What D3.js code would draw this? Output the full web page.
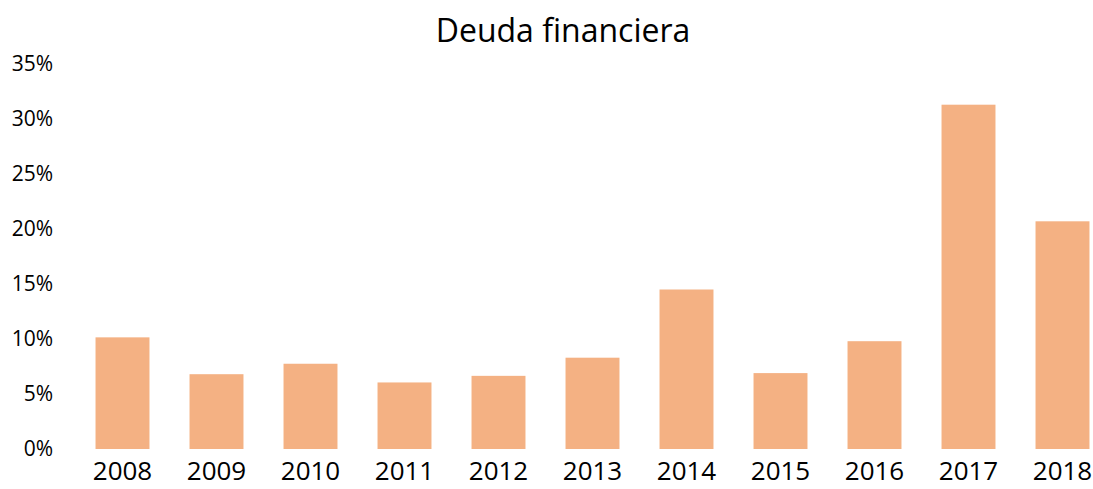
<!DOCTYPE html>
<meta charset="utf-8">
<script src="https://d3js.org/d3.v7.min.js"></script>
<style>
  body { margin: 0; background: #fff; }
  text { font-family: "Open Sans", sans-serif; fill: #000; }
</style>
<div id="chart"></div>
<script>
// data
var years = ["2008", "2009", "2010", "2011", "2012", "2013", "2014", "2015", "2016", "2017", "2018"];
var deuda = [10.15, 6.8, 7.75, 6.05, 6.65, 8.3, 14.5, 6.9, 9.8, 31.3, 20.7];
var yTicks = [0, 5, 10, 15, 20, 25, 30, 35];

var width = 1093, height = 489;

var svg = d3.select("#chart")
  .append("svg")
    .attr("width", width)
    .attr("height", height);

// scales
var x = d3.scaleBand()
  .domain(years)
  .range([75.5, 1109.5])
  .paddingInner(0.426)
  .paddingOuter(0.213);

var y = d3.scaleLinear()
  .domain([0, 35])
  .range([449, 64]);

// title
svg.append("text")
  .attr("x", 563)
  .attr("y", 42)
  .attr("text-anchor", "middle")
  .style("font-size", "32px")
  .text("Deuda financiera");

// bars
svg.append("g")
  .selectAll("rect")
  .data(deuda)
  .enter()
  .append("rect")
    .attr("x", function(d, i) { return x(years[i]); })
    .attr("y", function(d) { return y(d); })
    .attr("width", x.bandwidth())
    .attr("height", function(d) { return y(0) - y(d); })
    .style("fill", "#F4B183");

// y axis (labels only)
var yAxis = svg.append("g")
  .attr("transform", "translate(53,0)")
  .call(d3.axisLeft(y).tickValues(yTicks).tickSize(0).tickPadding(0)
    .tickFormat(function(d) { return d + "%"; }));
yAxis.select(".domain").remove();
yAxis.selectAll("text")
  .style("font-size", "21px")
  .style("font-family", "'Open Sans', sans-serif")
  .attr("fill", "#000");

// x axis (labels only)
var xAxis = svg.append("g")
  .attr("transform", "translate(0,449)")
  .call(d3.axisBottom(x).tickSize(0).tickPadding(13));
xAxis.select(".domain").remove();
xAxis.selectAll("text")
  .style("font-size", "26px")
  .style("font-family", "'Open Sans', sans-serif")
  .attr("fill", "#000");
</script>
